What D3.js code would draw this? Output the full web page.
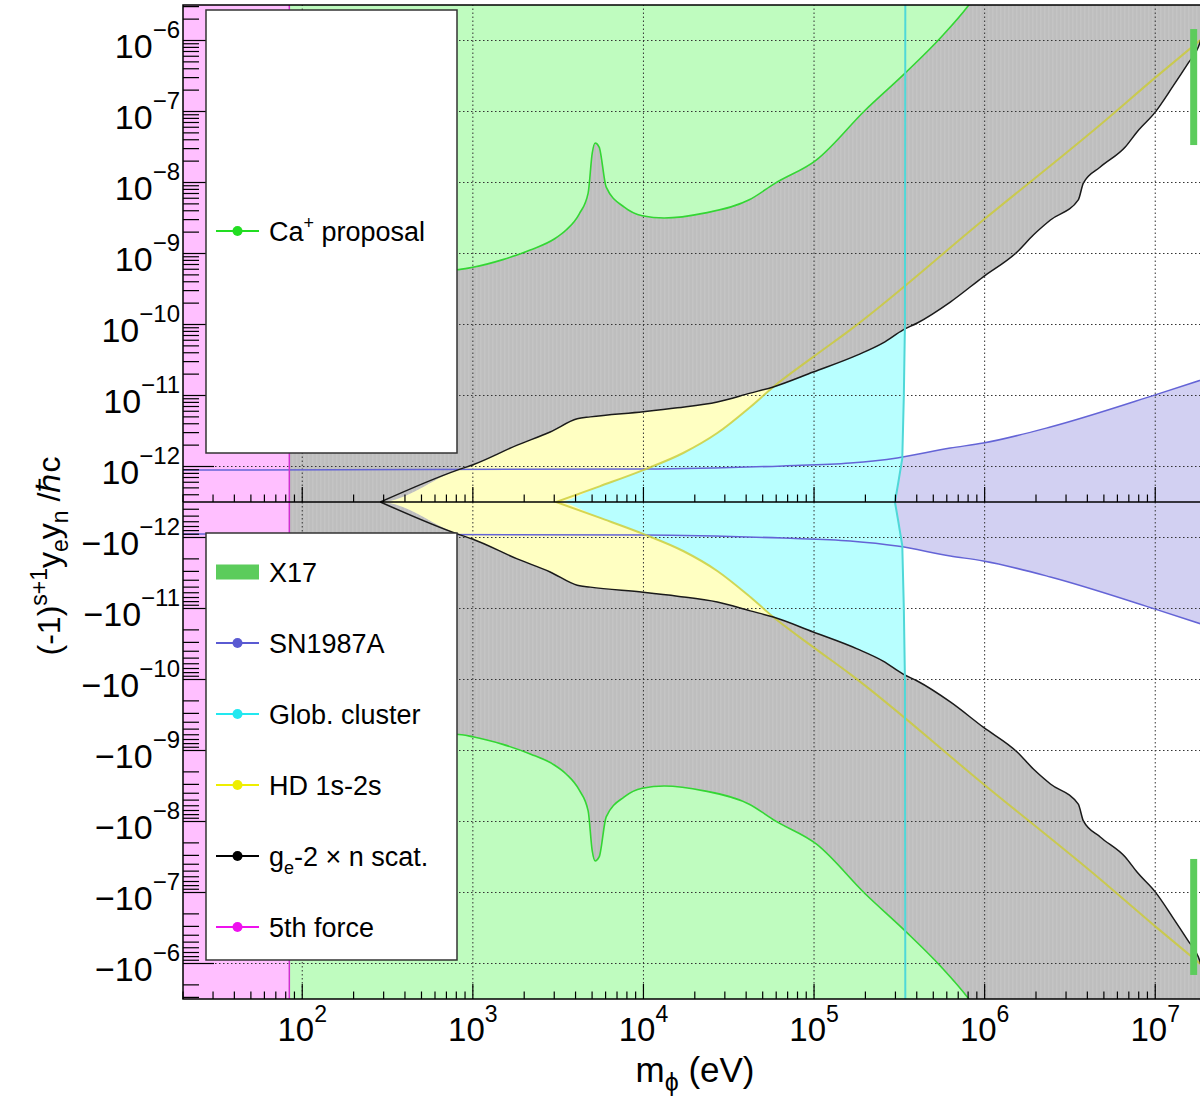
<!DOCTYPE html>
<html><head><meta charset="utf-8">
<script src="https://cdn.jsdelivr.net/npm/d3@7"></script>
<style>
body{margin:0;background:#fff}
svg{display:block}
text{font-family:"Liberation Sans",Arial,Helvetica,sans-serif;fill:#000}
</style>
</head><body>
<svg id="chart" width="1200" height="1096"></svg>
<script>
// ---------------- data (mass m_phi in eV, |coupling| y_e*y_n/hbar c) ----------------
const xTickValues = [1e2, 1e3, 1e4, 1e5, 1e6, 1e7];
const xTickExponents = ["2", "3", "4", "5", "6", "7"];
const yTickValues = [1e-12, 1e-11, 1e-10, 1e-9, 1e-8, 1e-7, 1e-6];
const yTickExponents = ["\u221212", "\u221211", "\u221210", "\u22129", "\u22128", "\u22127", "\u22126"];

// 5th force: excluded below this mass (eV), all couplings
const fifthForceMass = 84;

// Ca+ proposal (green) sensitivity curve
const caProposal = [
  [84, 5.5e-10], [800, 5.9e-10], [1000, 6.4e-10], [1500, 8.2e-10], [2170, 1.12e-9],
  [3000, 1.6e-9], [3520, 2.14e-9], [4200, 3.6e-9], [4740, 7.1e-9], [5010, 2.6e-8],
  [5210, 3.6e-8], [5500, 3.16e-8], [6050, 8.6e-9], [7720, 4.5e-9], [9840, 3.4e-9],
  [13240, 3.16e-9], [22700, 3.7e-9], [41700, 5.7e-9], [59300, 9.8e-9], [103000, 2.07e-8],
  [200000, 1.05e-7], [343000, 3.5e-7], [557000, 1.12e-6], [791000, 2.96e-6], [900000, 4.5e-6]
];

// g_e-2 x n scattering (black)
const geNScat = [
  [20, 3.16e-13], [287, 3.16e-13], [811, 8.9e-13], [993, 1.05e-12], [1820, 2.0e-12],
  [2840, 3.06e-12], [4090, 4.7e-12], [4880, 5.0e-12], [9970, 5.9e-12], [15800, 6.7e-12],
  [27100, 8.1e-12], [42300, 1.08e-11], [57700, 1.32e-11], [98900, 2.14e-11],
  [179000, 3.7e-11], [254000, 5.5e-11], [333000, 8.4e-11], [403000, 1.05e-10],
  [629000, 2.07e-10], [982000, 4.7e-10], [1.55e6, 1.05e-9], [1.93e6, 1.82e-9],
  [2.43e6, 2.96e-9], [3.54e6, 5.7e-9], [3.79e6, 9.8e-9], [4.76e6, 1.65e-8],
  [6.67e6, 3.16e-8], [7.84e6, 5.2e-8], [1e7, 9.8e-8], [1.26e7, 2.2e-7],
  [1.56e7, 4.8e-7], [1.79e7, 8.1e-7], [2e7, 2e-6]
];

// HD 1s-2s (yellow)
const hd1s2s = [
  [2960, 3.06e-13], [5580, 5.3e-13], [9970, 8.9e-13], [17100, 1.55e-12], [27100, 2.96e-12],
  [42300, 6.9e-12], [57700, 1.32e-11], [98900, 3.5e-11], [163000, 8.4e-11],
  [982000, 2.96e-9], [4.76e6, 6.5e-8], [1e7, 3.0e-7], [2e7, 1.2e-6]
];

// Globular cluster (cyan): upper mass edge (eV) vs coupling
const globCluster = [
  [1e-5, 343000], [1e-10, 341000], [1e-11, 336000], [1.3e-12, 329000],
  [6e-13, 312000], [3.16e-13, 298000]
];

// SN1987A (purple)
const sn1987a = [
  [20, 8.9e-13], [1e4, 9.2e-13], [65900, 1.02e-12], [163000, 1.12e-12],
  [307000, 1.32e-12], [629000, 1.82e-12], [982000, 2.14e-12], [2.43e6, 3.6e-12],
  [1e7, 1.02e-11], [2e7, 1.75e-11]
];

// X17 (green bar)
const x17Mass = 1.68e7;
const x17Range = [3.37e-8, 1.45e-6];

const legendUpper = [{label: "Ca", sup: "+", rest: " proposal", color: "#22dd22"}];
const legendLower = [
  {label: "X17", type: "box", color: "#5ccc5c"},
  {label: "SN1987A", color: "#5a5ad2"},
  {label: "Glob. cluster", color: "#22e8f0"},
  {label: "HD 1s-2s", color: "#eeee00"},
  {label: "g", sub: "e", rest: "-2 \u00d7 n scat.", color: "#000000"},
  {label: "5th force", color: "#ee11ee"}
];

// ---------------- layout ----------------
const svg = d3.select("#chart");
svg.append("rect").attr("width", 1200).attr("height", 1096).attr("fill", "#fff");

const L = 183, R = 1206.6, T = 5, B = 999, C = 502;
const xMin = 20, xMax = 2e7;
const yLo = Math.pow(10, -12.5), yHi = Math.pow(10, -5.5);

const x = d3.scaleLog().domain([xMin, xMax]).range([L, R]);
const yU = d3.scaleLog().domain([yLo, yHi]).range([C, T]);
const yD = d3.scaleLog().domain([yLo, yHi]).range([C, B]);

const defs = svg.append("defs");
defs.append("clipPath").attr("id", "clipU").append("rect")
  .attr("x", L).attr("y", T).attr("width", R - L).attr("height", C - T);
defs.append("clipPath").attr("id", "clipD").append("rect")
  .attr("x", L).attr("y", C).attr("width", R - L).attr("height", B - C);
// faint vertical striping of the gray fill
const pat = defs.append("pattern").attr("id", "grayStripes").attr("patternUnits", "userSpaceOnUse")
  .attr("width", 4).attr("height", 10);
pat.append("rect").attr("width", 4).attr("height", 10).attr("fill", "#bebebe");
pat.append("rect").attr("width", 1.5).attr("height", 10).attr("fill", "#c4c4c4");

const COL = {
  magentaFill: "#ffbfff", magentaLine: "#d030d0",
  greenFill: "#bffcbf", greenLine: "#33d633",
  black: "#1a1a1a",
  yellowFill: "#ffffc2", yellowLine: "#cccc33",
  cyanFill: "#b8ffff", cyanLine: "#4fd8d8",
  lavender: "#d2d0f2", purpleLine: "#6464d6",
  x17: "#5ccc5c"
};

const halves = [
  {ys: yU, clip: "url(#clipU)"},
  {ys: yD, clip: "url(#clipD)"}
];
const curve = d3.curveMonotoneX;

halves.forEach(h => {
  const ys = h.ys;
  const g = svg.append("g").attr("clip-path", h.clip);
  const top = 1e-4;

  // SN1987A lavender fill (from axis up to line)
  g.append("path").datum(sn1987a)
    .attr("d", d3.area().curve(curve).x(d => x(d[0])).y0(ys(yLo)).y1(d => ys(d[1])))
    .attr("fill", COL.lavender);

  // Glob. cluster cyan fill
  const cyanPts = [[x(xMin), ys(top)]]
    .concat(globCluster.map(d => [x(d[1]), ys(d[0])]))
    .concat([[x(xMin), ys(globCluster[globCluster.length - 1][0])]]);
  g.append("path").attr("d", d3.line()(cyanPts) + "Z").attr("fill", COL.cyanFill);

  // HD 1s-2s yellow fill (above its line)
  const hdFill = [[xMin, hd1s2s[0][1]]].concat(hd1s2s);
  g.append("path").datum(hdFill)
    .attr("d", d3.area().curve(curve).x(d => x(d[0])).y0(d => ys(d[1])).y1(ys(top)))
    .attr("fill", COL.yellowFill);

  // g_e-2 x n scat gray fill (above black line)
  g.append("path").datum(geNScat)
    .attr("d", d3.area().curve(curve).x(d => x(d[0])).y0(d => ys(d[1])).y1(ys(top)))
    .attr("fill", "url(#grayStripes)");

  // Ca+ proposal green fill (above green line)
  g.append("path").datum(caProposal)
    .attr("d", d3.area().curve(curve).x(d => x(d[0])).y0(d => ys(d[1])).y1(ys(top)))
    .attr("fill", COL.greenFill);

  // 5th force magenta fill
  g.append("rect").attr("x", x(xMin)).attr("y", 0)
    .attr("width", x(fifthForceMass) - x(xMin)).attr("height", 1096)
    .attr("fill", COL.magentaFill);

  // grid
  xTickValues.forEach(v => {
    g.append("line").attr("x1", x(v)).attr("x2", x(v)).attr("y1", ys(yLo)).attr("y2", ys(yHi))
      .attr("stroke", "#333").attr("stroke-width", 1).attr("stroke-dasharray", "1.5,2.5");
  });
  yTickValues.forEach(v => {
    g.append("line").attr("x1", L).attr("x2", R).attr("y1", ys(v)).attr("y2", ys(v))
      .attr("stroke", "#333").attr("stroke-width", 1).attr("stroke-dasharray", "1.5,2.5");
  });

  // lines
  const ln = d3.line().curve(curve).x(d => x(d[0])).y(d => ys(d[1]));
  g.append("path").datum(sn1987a).attr("d", ln).attr("fill", "none")
    .attr("stroke", COL.purpleLine).attr("stroke-width", 1.5);
  g.append("path").datum(hd1s2s).attr("d", ln).attr("fill", "none")
    .attr("stroke", COL.yellowLine).attr("stroke-width", 2).attr("stroke-opacity", 0.8);
  g.append("path").datum(geNScat.filter(d => d[0] >= 287)).attr("d", ln).attr("fill", "none")
    .attr("stroke", COL.black).attr("stroke-width", 1.5);
  g.append("path").datum(caProposal).attr("d", ln).attr("fill", "none")
    .attr("stroke", COL.greenLine).attr("stroke-width", 1.6);
  g.append("path").attr("d", d3.line()(globCluster.map(d => [x(d[1]), ys(d[0])])))
    .attr("fill", "none").attr("stroke", COL.cyanLine).attr("stroke-width", 2);
  g.append("line").attr("x1", x(fifthForceMass)).attr("x2", x(fifthForceMass))
    .attr("y1", 0).attr("y2", 1096).attr("stroke", COL.magentaLine).attr("stroke-width", 1.5);

  // X17 bar
  g.append("rect").attr("x", x(x17Mass) - 3.5).attr("width", 7)
    .attr("y", Math.min(ys(x17Range[0]), ys(x17Range[1])))
    .attr("height", Math.abs(ys(x17Range[0]) - ys(x17Range[1])))
    .attr("fill", COL.x17);
});

// ---------------- axes ----------------
const ax = svg.append("g").attr("stroke", "#000").attr("stroke-width", 1.2);
const yMinor = [];
for (let e = -13; e <= -6; e++) for (let k = 2; k <= 9; k++) {
  const v = k * Math.pow(10, e);
  if (v > yLo && v < yHi) yMinor.push(v);
}
halves.forEach(h => {
  yMinor.forEach(v => ax.append("line").attr("x1", L).attr("x2", L + 16).attr("y1", h.ys(v)).attr("y2", h.ys(v)));
  yTickValues.forEach(v => ax.append("line").attr("x1", L).attr("x2", L + 31).attr("y1", h.ys(v)).attr("y2", h.ys(v)));
});
const xMinor = [];
for (let e = 1; e <= 7; e++) for (let k = 2; k <= 9; k++) {
  const v = k * Math.pow(10, e);
  if (v >= xMin && v <= xMax) xMinor.push(v);
}
[C, B].forEach(yy => {
  xMinor.forEach(v => ax.append("line").attr("x1", x(v)).attr("x2", x(v)).attr("y1", yy).attr("y2", yy - 7.5));
  xTickValues.forEach(v => ax.append("line").attr("x1", x(v)).attr("x2", x(v)).attr("y1", yy).attr("y2", yy - 15));
});
svg.append("rect").attr("x", L).attr("y", T).attr("width", R - L).attr("height", B - T)
  .attr("fill", "none").attr("stroke", "#000").attr("stroke-width", 1.5);
svg.append("line").attr("x1", L).attr("x2", R).attr("y1", C).attr("y2", C)
  .attr("stroke", "#000").attr("stroke-width", 1.5);

// ---------------- legends ----------------
function legendBox(x0, y0, x1, y1) {
  svg.append("rect").attr("x", x0).attr("y", y0).attr("width", x1 - x0).attr("height", y1 - y0)
    .attr("fill", "#fff").attr("stroke", "#333").attr("stroke-width", 1.5);
}
function legendEntry(item, yy) {
  if (item.type === "box") {
    svg.append("rect").attr("x", 216).attr("y", yy - 7.5).attr("width", 43).attr("height", 15).attr("fill", item.color);
  } else {
    svg.append("line").attr("x1", 216).attr("x2", 259).attr("y1", yy).attr("y2", yy)
      .attr("stroke", item.color).attr("stroke-width", 2);
    svg.append("circle").attr("cx", 237.5).attr("cy", yy).attr("r", 5).attr("fill", item.color);
  }
  const t = svg.append("text").attr("x", 269).attr("y", yy + 9.5).attr("font-size", 27);
  t.append("tspan").text(item.label);
  if (item.sup) {
    t.append("tspan").attr("font-size", 18).attr("dy", -12).text(item.sup);
    t.append("tspan").attr("dy", 12).text(item.rest);
  } else if (item.sub) {
    t.append("tspan").attr("font-size", 18).attr("dy", 8).text(item.sub);
    t.append("tspan").attr("dy", -8).text(item.rest);
  }
}
legendBox(206, 10, 457, 453);
legendUpper.forEach(it => legendEntry(it, 231));
legendBox(206, 533, 457, 960);
legendLower.forEach((it, i) => legendEntry(it, 572 + 71 * i));

// ---------------- tick labels ----------------
yTickValues.forEach((v, i) => {
  [[yU, "10"], [yD, "\u221210"]].forEach(([ys, base]) => {
    const t = svg.append("text").attr("x", 180).attr("y", ys(v) + 17).attr("text-anchor", "end").attr("font-size", 34);
    t.append("tspan").text(base);
    t.append("tspan").attr("font-size", 24).attr("dy", -20).text(yTickExponents[i]);
  });
});
xTickValues.forEach((v, i) => {
  const t = svg.append("text").attr("x", x(v)).attr("y", 1041).attr("text-anchor", "middle").attr("font-size", 33);
  t.append("tspan").text("10");
  t.append("tspan").attr("font-size", 23).attr("dy", -19).text(xTickExponents[i]);
});

// axis titles
const xt = svg.append("text").attr("x", 695).attr("y", 1082).attr("text-anchor", "middle").attr("font-size", 35);
xt.append("tspan").text("m");
xt.append("tspan").attr("font-size", 25).attr("dy", 9).text("\u03d5");
xt.append("tspan").attr("dy", -9).text(" (eV)");

const yt = svg.append("text").attr("transform", "translate(60,556) rotate(-90)")
  .attr("text-anchor", "middle").attr("font-size", 32);
yt.append("tspan").text("(-1)");
yt.append("tspan").attr("font-size", 23).attr("dy", -13).text("s+1");
yt.append("tspan").attr("dy", 13).text("y");
yt.append("tspan").attr("font-size", 23).attr("dy", 8).text("e");
yt.append("tspan").attr("dy", -8).text("y");
yt.append("tspan").attr("font-size", 23).attr("dy", 8).text("n");
yt.append("tspan").attr("dy", -8).text(" /\u210fc");
</script>
</body></html>
